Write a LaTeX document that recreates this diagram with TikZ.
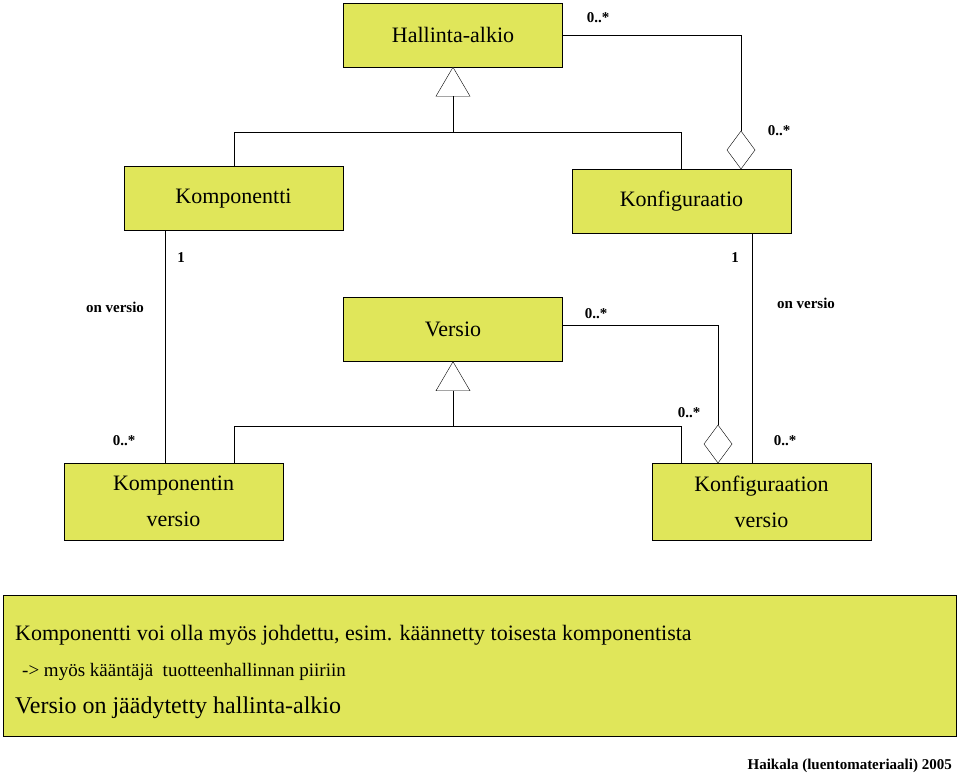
\documentclass[tikz,border=0pt]{standalone}
\usepackage{fontspec}
\setmainfont{Liberation Serif}
\usetikzlibrary{calc}
\definecolor{umlyellow}{RGB}{224,230,90}
\begin{document}
\begin{tikzpicture}[x=1pt,y=-1pt,
	cls/.style={draw,fill=umlyellow,minimum width=219pt,minimum height=64pt,inner sep=0pt,font=\fontsize{22}{24}\selectfont,align=center},
	lbl/.style={font=\bfseries\fontsize{15}{16}\selectfont,inner sep=0pt},
	inh/.style={draw,fill=white},
	agg/.style={draw,fill=white}]
	\useasboundingbox (0,0) rectangle (959,774);
	%luokat
	\node[cls] (hallinta) at (453,35) {Hallinta-alkio};
	\node[cls] (komp) at (233.5,198.5) {Komponentti};
	\node[cls] (konf) at (681.5,201.5) {Konfiguraatio};
	\node[cls] (versio) at (453,329.5) {Versio};
	\node[cls,minimum height=77pt,font=\fontsize{22}{36}\selectfont] (kversio) at (173.5,501.5) {Komponentin\\versio};
	\node[cls,minimum height=77pt,font=\fontsize{22}{36}\selectfont] (cversio) at (761.5,501.5) {Konfiguraation\\versio};
	
	%periytyminen hallinta-alkiosta
	\draw[inh] (hallinta.south) -- ++(-17,29) -- ++(34,0) -- cycle;
	\coordinate (t1) at ($(hallinta.south)+(0,29)$);
	\draw (t1) -- ++(0,36) coordinate (j1);
	\draw (komp.north -| 0,0) ++(234,0) |- (j1) -| (konf.north -| 681,0);
	
	%kooste hallinta-alkio - konfiguraatio
	\draw[agg] (741,169) -- ++(-14,-19) -- ++(14,-19) -- ++(14,19) -- cycle;
	\draw (hallinta.east) -- (741,35) -- (741,131);
	
	%assosiaatiot
	\draw (165,231) -- (165,463);
	\draw (752,234) -- (752,463);
	
	%periytyminen versiosta
	\draw[inh] (versio.south) -- ++(-17,29) -- ++(34,0) -- cycle;
	\coordinate (t2) at ($(versio.south)+(0,29)$);
	\draw (t2) -- ++(0,35) coordinate (j2);
	\draw (234,463) |- (j2) -| (681,463);
	
	%kooste versio - konfiguraation versio
	\draw[agg] (718,463) -- ++(-14,-19) -- ++(14,-19) -- ++(14,19) -- cycle;
	\draw (versio.east |- 0,325) -- (718,325) -- (718,425);
	
	%kertoimet
	\node[lbl] at (598,18) {0..*};
	\node[lbl] at (779,131) {0..*};
	\node[lbl] at (181,258) {1};
	\node[lbl] at (735,258) {1};
	\node[lbl] at (115,307) {on versio};
	\node[lbl] at (806,303) {on versio};
	\node[lbl] at (596,314) {0..*};
	\node[lbl] at (689,413) {0..*};
	\node[lbl] at (124,441) {0..*};
	\node[lbl] at (785,441) {0..*};
	
	%huomautus
	\draw[fill=umlyellow] (3,595) rectangle (956,736);
	\node[anchor=base west,inner sep=0pt,font=\fontsize{22}{24}\selectfont] (n1) at (15,640) {Komponentti voi olla myös johdettu, esim. käännetty toisesta komponentista};
	\node[anchor=base west,inner sep=0pt,font=\fontsize{19}{20}\selectfont] (n2) at (22,676) {-> myös kääntäjä\ \ tuotteenhallinnan piiriin};
	\node[anchor=base west,inner sep=0pt,font=\fontsize{24}{26}\selectfont] (n3) at (15,713) {Versio on jäädytetty hallinta-alkio};
	\node[anchor=base east,inner sep=0pt,font=\bfseries\fontsize{15}{16}\selectfont] (lahde) at (952,769) {Haikala (luentomateriaali) 2005};
\end{tikzpicture}
\end{document}
